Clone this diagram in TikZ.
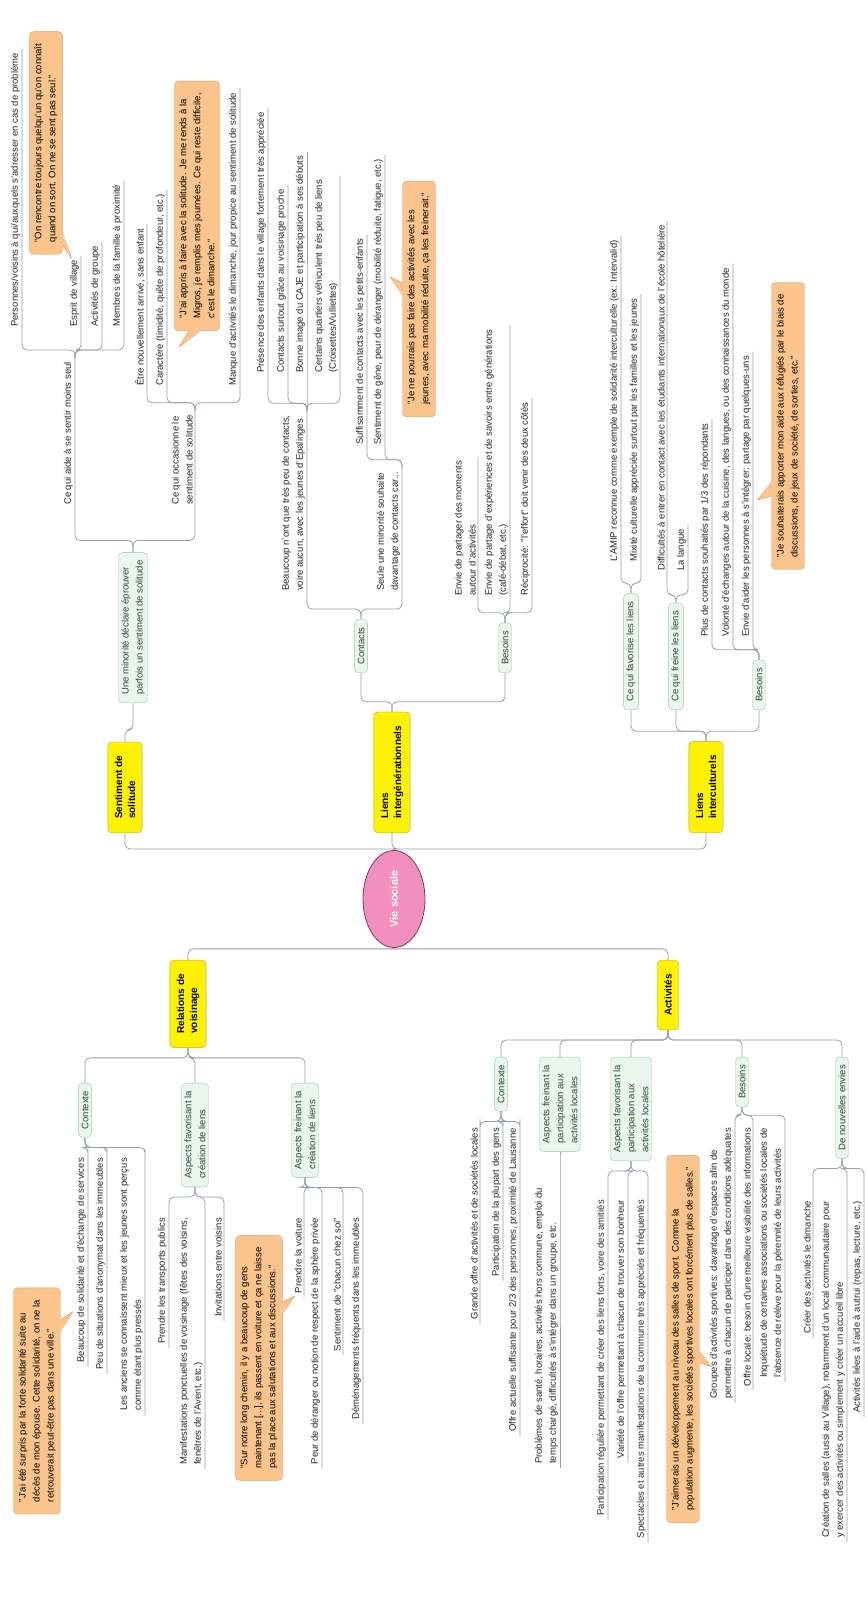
\documentclass[tikz,border=0pt]{standalone}
\usepackage{fontspec}
\setmainfont{Liberation Sans}
\usetikzlibrary{shapes.geometric,calc}
\definecolor{linec}{RGB}{150,160,175}
\definecolor{rootfill}{RGB}{243,143,190}
\definecolor{rootline}{RGB}{120,60,90}
\definecolor{mainline}{RGB}{190,170,40}
\definecolor{subfill}{RGB}{233,245,238}
\definecolor{subline}{RGB}{160,195,178}
\definecolor{subtext}{RGB}{50,70,60}
\definecolor{quotefill}{RGB}{250,196,140}
\definecolor{quoteline}{RGB}{228,160,100}
\definecolor{leaftext}{RGB}{40,40,40}

\begin{document}
\begin{tikzpicture}[
    conn/.style={draw=linec, line width=0.8pt, rounded corners=5pt},
    rootnode/.style={ellipse, draw=rootline, fill=rootfill, text=white, line width=0.8pt,
      font=\bfseries\fontsize{11}{13}\selectfont, minimum width=97pt, minimum height=62pt},
    mainbox/.style={draw=mainline, fill=yellow, rounded corners=4pt, align=left,
      font=\bfseries\fontsize{10}{13}\selectfont, inner xsep=14pt, inner ysep=7pt},
    subbox/.style={draw=subline, fill=subfill, text=subtext, rounded corners=4pt, align=left,
      font=\fontsize{9.5}{14}\selectfont, inner xsep=8pt, inner ysep=3pt},
    leaf/.style={text=leaftext, align=left, font=\fontsize{9.5}{14}\selectfont,
      inner xsep=4pt, inner ysep=2pt},
    callq/.style={draw=quoteline, fill=quotefill, rounded corners=4pt, align=left,
      font=\fontsize{9.5}{14}\selectfont, inner xsep=12pt, inner ysep=5pt},
    tailfill/.style={fill=quotefill},
    tailline/.style={draw=quoteline, line join=round}
  ]
\begin{scope}[rotate=90, transform shape, x=1pt, y=-1pt]
\fill[white] (0,0) rectangle (1603,867);
\useasboundingbox (0,0) rectangle (1603,867);

% centre and main topics
\node[rootnode] (vie) at (704,394) {Vie sociale};
\node[mainbox, anchor=west] (sol) at (770,125) {Sentiment de\\solitude};
\node[mainbox, anchor=west] (intg) at (770,392) {Liens\\intergénérationnels};
\node[mainbox, anchor=west] (intc) at (770,706) {Liens\\interculturels};
\node[mainbox, anchor=east] (vois) at (643,188) {Relations de\\voisinage};
\node[mainbox, anchor=east] (act) at (643,668) {Activités};

\draw[conn, sharp corners] (vie.east) -- ++(1,0) [rounded corners=5pt] |- (sol.west);
\draw[conn, sharp corners] (vie.east) -- ++(1,0) [rounded corners=5pt] |- (intg.west);
\draw[conn, sharp corners] (vie.east) -- ++(1,0) [rounded corners=5pt] |- (intc.west);
\draw[conn, sharp corners] (vie.west) -- ++(-1,0) [rounded corners=5pt] |- (vois.east);
\draw[conn, sharp corners] (vie.west) -- ++(-1,0) [rounded corners=5pt] |- (act.east);

% second level
\node[subbox, anchor=west] (minor) at (900,133) {Une minorité déclare éprouver\\parfois un sentiment de solitude};
\node[subbox, anchor=west] (contg) at (930,361) {Contacts};
\node[subbox, anchor=west] (besg) at (930,505) {Besoins};
\node[subbox, anchor=west] (fav) at (893,631) {Ce qui favorise les liens};
\node[subbox, anchor=west] (frein) at (893,676) {Ce qui freine les liens};
\node[subbox, anchor=west] (besc) at (893,759) {Besoins};
\node[subbox, anchor=east] (ctxv) at (520,85) {Contexte};
\node[subbox, anchor=east] (favv) at (520,195) {Aspects favorisant la\\création de liens};
\node[subbox, anchor=east] (freinv) at (520,305) {Aspects freinant la\\création de liens};
\node[subbox, anchor=east] (ctxa) at (546,501) {Contexte};
\node[subbox, anchor=east] (freina) at (546,560) {Aspects freinant la\\participation aux\\activités locales};
\node[subbox, anchor=east] (fava) at (546,631) {Aspects favorisant la\\participation aux\\activités locales};
\node[subbox, anchor=east] (besa) at (546,742) {Besoins};
\node[subbox, anchor=east] (envies) at (546,842) {De nouvelles envies};

\draw[conn] (sol.east) -- ++(12,0) |- (minor.west);
\draw[conn] (intg.east) -- ++(10,0) |- (contg.west);
\draw[conn] (intg.east) -- ++(10,0) |- (besg.west);
\draw[conn] (intc.east) -- ++(10,0) |- (fav.west);
\draw[conn] (intc.east) -- ++(10,0) |- (frein.west);
\draw[conn] (intc.east) -- ++(10,0) |- (besc.west);
\draw[conn] (vois.west) -- ++(-10,0) |- (ctxv.east);
\draw[conn] (vois.west) -- ++(-10,0) |- (favv.east);
\draw[conn] (vois.west) -- ++(-10,0) |- (freinv.east);
\draw[conn] (act.west) -- ++(-10,0) |- (ctxa.east);
\draw[conn] (act.west) -- ++(-10,0) |- (freina.east);
\draw[conn] (act.west) -- ++(-10,0) |- (fava.east);
\draw[conn] (act.west) -- ++(-10,0) |- (besa.east);
\draw[conn] (act.west) -- ++(-10,0) |- (envies.east);

% Sentiment de solitude
\node[leaf, anchor=south west] (aide) at (1094,75) {Ce qui aide à se sentir moins seul};
\node[leaf, anchor=south west] (occas) at (1094,195) {Ce qui occasionne le\\sentiment de solitude};
\draw[conn] (minor.east) -- ++(12,0) |- (aide.south west) -- (aide.south east);
\draw[conn] (minor.east) -- ++(12,0) |- (occas.south west) -- (occas.south east);

\node[leaf, anchor=south west] (recours) at (1272,22) {Personnes/voisins à qui/auxquels s'adresser en cas de problème};
\node[callq] (q1) at (1460,46) {"On rencontre toujours quelqu'un qu'on connaît\\quand on sort. On ne se sent pas seul."};
\fill[tailfill] ($(q1.south west)+(10,-1)$) -- ($(q1.south west)+(-4,9)$) -- ($(q1.south west)+(22,-1)$) -- cycle;
\draw[tailline] ($(q1.south west)+(10,0)$) -- ($(q1.south west)+(-4,9)$) -- ($(q1.south west)+(22,0)$);
\node[leaf, anchor=south west] (esprit) at (1272,81) {Esprit de village};
\node[leaf, anchor=south west] (grp) at (1272,102) {Activités de groupe};
\node[leaf, anchor=south west] (fam) at (1272,124) {Membres de la famille à proximité};
\foreach \c in {recours,esprit,grp,fam}
  \draw[conn] (aide.south east) -- ++(8,0) |- (\c.south west) -- (\c.south east);

\node[leaf, anchor=south west] (arrive) at (1213,147) {Être nouvellement arrivé, sans enfant};
\node[leaf, anchor=south west] (caract) at (1213,167) {Caractère (timidité, quête de profondeur, etc.)};
\node[callq] (q2) at (1397,197) {"J'ai appris à faire avec la solitude. Je me rends à la\\Migros, je remplis mes journées. Ce qui reste difficile,\\c'est le dimanche."};
\fill[tailfill] ($(q2.west)+(1,-8)$) -- ($(q2.west)+(-16,-18)$) -- ($(q2.west)+(1,4)$) -- cycle;
\draw[tailline] ($(q2.west)+(0,-8)$) -- ($(q2.west)+(-16,-18)$) -- ($(q2.west)+(0,4)$);
\node[leaf, anchor=south west] (dimanche) at (1213,240) {Manque d'activités le dimanche, jour propice au sentiment de solitude};
\foreach \c in {arrive,caract,dimanche}
  \draw[conn] (occas.south east) -- ++(8,0) |- (\c.south west) -- (\c.south east);

% Liens intergenerationnels
\node[leaf, anchor=south west] (peu) at (1008,307) {Beaucoup n'ont que très peu de contacts,\\voire aucun, avec les jeunes d'Epalinges};
\node[leaf, anchor=south west] (minorite) at (1008,402) {Seule une minorité souhaite\\davantage de contacts car...};
\draw[conn] (contg.east) -- ++(10,0) |- (peu.south west) -- (peu.south east);
\draw[conn] (contg.east) -- ++(10,0) |- (minorite.south west) -- (minorite.south east);

\node[leaf, anchor=south west] (enfants) at (1226,268) {Présence des enfants dans le village fortement très appréciée};
\node[leaf, anchor=south west] (proche) at (1226,288) {Contacts surtout grâce au voisinage proche};
\node[leaf, anchor=south west] (caje) at (1226,307) {Bonne image du CAJE et participation à ses débuts};
\node[leaf, anchor=south west] (quart) at (1226,340) {Certains quartiers véhiculent très peu de liens\\(Croisettes/Vulliettes)};
\foreach \c in {enfants,proche,caje,quart}
  \draw[conn] (peu.south east) -- ++(8,0) |- (\c.south west) -- (\c.south east);

\node[leaf, anchor=south west] (petits) at (1154,367) {Suffisamment de contacts avec les petits-enfants};
\node[leaf, anchor=south west] (gene) at (1154,385) {Sentiment de gêne, peur de déranger (mobilité réduite, fatigue, etc.)};
\node[callq] (q3) at (1304,419) {"Je ne pourrais pas faire des activités avec les\\jeunes, avec ma mobilité réduite, ça les freinerait."};
\fill[tailfill] ($(q3.north)+(4,1)$) -- ($(q3.north)+(22,-12)$) -- ($(q3.north)+(16,1)$) -- cycle;
\draw[tailline] ($(q3.north)+(4,0)$) -- ($(q3.north)+(22,-12)$) -- ($(q3.north)+(16,0)$);
\foreach \c in {petits,gene}
  \draw[conn] (minorite.south east) -- ++(8,0) |- (\c.south west) -- (\c.south east);

\node[leaf, anchor=south west] (moments) at (1003,478) {Envie de partager des moments\\autour d'activités};
\node[leaf, anchor=south west] (savoirs) at (1003,510) {Envie de partage d'expériences et de savoirs entre générations\\(café-débat, etc.)};
\node[leaf, anchor=south west] (recip) at (1003,532) {Réciprocité: "l'effort" doit venir des deux côtés};
\foreach \c in {moments,savoirs,recip}
  \draw[conn] (besg.east) -- ++(10,0) |- (\c.south west) -- (\c.south east);

% Liens interculturels
\node[leaf, anchor=south west] (amip) at (1037,621) {L'AMIP reconnue comme exemple de solidarité interculturelle (ex: Intervalid)};
\node[leaf, anchor=south west] (mixite) at (1037,641) {Mixité culturelle appréciée surtout par les familles et les jeunes};
\foreach \c in {amip,mixite}
  \draw[conn] (fav.east) -- ++(10,0) |- (\c.south west) -- (\c.south east);

\node[leaf, anchor=south west] (etud) at (1028,667) {Difficultés à entrer en contact avec les étudiants internationaux de l'école hôtelière};
\node[leaf, anchor=south west] (langue) at (1028,688) {La langue};
\foreach \c in {etud,langue}
  \draw[conn] (frein.east) -- ++(8,0) |- (\c.south west) -- (\c.south east);

\node[leaf, anchor=south west] (tiers) at (962,712) {Plus de contacts souhaités par 1/3 des répondants};
\node[leaf, anchor=south west] (cuisine) at (962,733) {Volonté d'échanges autour de la cuisine, des langues, ou des connaissances du monde};
\node[leaf, anchor=south west] (aider) at (962,753) {Envie d'aider les personnes à s'intégrer: partage par quelques-uns};
\node[callq] (q4) at (1177,788) {"Je souhaiterais apporter mon aide aux réfugiés par le biais de\\discussions, de jeux de société, de sorties, etc."};
\fill[tailfill] ($(q4.north)+(-70,1)$) -- ($(q4.north)+(-74,-14)$) -- ($(q4.north)+(-56,1)$) -- cycle;
\draw[tailline] ($(q4.north)+(-70,0)$) -- ($(q4.north)+(-74,-14)$) -- ($(q4.north)+(-56,0)$);
\foreach \c in {tiers,cuisine,aider}
  \draw[conn] (besc.east) -- ++(10,0) |- (\c.south west) -- (\c.south east);

% Relations de voisinage
\node[leaf, anchor=south east] (solid) at (449,88) {Beaucoup de solidarité et d'échange de services};
\node[callq] (q5) at (202,37) {"J'ai été surpris par la forte solidarité suite au\\décès de mon épouse. Cette solidarité, on ne la\\retrouverait peut-être pas dans une ville."};
\fill[tailfill] ($(q5.south east)+(-44,-1)$) -- ($(q5.south east)+(-24,12)$) -- ($(q5.south east)+(-32,-1)$) -- cycle;
\draw[tailline] ($(q5.south east)+(-44,0)$) -- ($(q5.south east)+(-24,12)$) -- ($(q5.south east)+(-32,0)$);
\node[leaf, anchor=south east] (anonym) at (449,107) {Peu de situations d'anonymat dans les immeubles};
\node[leaf, anchor=south east] (anciens) at (449,145) {Les anciens se connaissent mieux et les jeunes sont perçus\\comme étant plus pressés};
\foreach \c in {solid,anonym,anciens}
  \draw[conn] (ctxv.west) -- ++(-10,0) |- (\c.south east) -- (\c.south west);

\node[leaf, anchor=south east] (transp) at (389,169) {Prendre les transports publics};
\node[leaf, anchor=south east] (fetes) at (389,205) {Manifestations ponctuelles de voisinage (fêtes des voisins,\\fenêtres de l'Avent, etc.)};
\node[leaf, anchor=south east] (invit) at (389,224) {Invitations entre voisins};
\foreach \c in {transp,fetes,invit}
  \draw[conn] (favv.west) -- ++(-10,0) |- (\c.south east) -- (\c.south west);

\node[callq] (q6) at (245,259) {"Sur notre long chemin, il y a beaucoup de gens\\maintenant [...], ils passent en voiture et ça ne laisse\\pas la place aux salutations et aux discussions."};
\fill[tailfill] ($(q6.south)+(44,-1)$) -- ($(q6.south)+(62,12)$) -- ($(q6.south)+(56,-1)$) -- cycle;
\draw[tailline] ($(q6.south)+(44,0)$) -- ($(q6.south)+(62,12)$) -- ($(q6.south)+(56,0)$);
\node[leaf, anchor=south east] (voiture) at (389,304) {Prendre la voiture};
\node[leaf, anchor=south east] (spriv) at (389,322) {Peur de déranger ou notion de respect de la sphère privée};
\node[leaf, anchor=south east] (chacun) at (389,343) {Sentiment de "chacun chez soi"};
\node[leaf, anchor=south east] (demen) at (389,363) {Déménagements fréquents dans les immeubles};
\foreach \c in {voiture,spriv,chacun,demen}
  \draw[conn] (freinv.west) -- ++(-10,0) |- (\c.south east) -- (\c.south west);

% Activites
\node[leaf, anchor=south east] (offre) at (479,480) {Grande offre d'activités et de sociétés locales};
\node[leaf, anchor=south east] (plupart) at (479,503) {Participation de la plupart des gens};
\node[leaf, anchor=south east] (suff) at (479,520) {Offre actuelle suffisante pour 2/3 des personnes, proximité de Lausanne};
\foreach \c in {offre,plupart,suff}
  \draw[conn] (ctxa.west) -- ++(-10,0) |- (\c.south east) -- (\c.south west);

\node[leaf, anchor=south east] (sante) at (419,560) {Problèmes de santé, horaires, activités hors commune, emploi du\\temps chargé, difficultés à s'intégrer dans un groupe, etc.};
\draw[conn] (freina.west) -- ++(-10,0) |- (sante.south east) -- (sante.south west);

\node[leaf, anchor=south east] (regul) at (407,608) {Participation régulière permettant de créer des liens forts, voire des amitiés};
\node[leaf, anchor=south east] (variete) at (407,628) {Variété de l'offre permettant à chacun de trouver son bonheur};
\node[leaf, anchor=south east] (spect) at (407,648) {Spectacles et autres manifestations de la commune très appréciés et fréquentés};
\foreach \c in {regul,variete,spect}
  \draw[conn] (fava.west) -- ++(-10,0) |- (\c.south east) -- (\c.south west);

\node[callq] (q7) at (264,683) {"J'aimerais un développement au niveau des salles de sport. Comme la\\population augmente, les sociétés sportives locales ont forcément plus de salles."};
\fill[tailfill] ($(q7.south)+(-24,-1)$) -- ($(q7.south)+(-28,12)$) -- ($(q7.south)+(-12,-1)$) -- cycle;
\draw[tailline] ($(q7.south)+(-24,0)$) -- ($(q7.south)+(-28,12)$) -- ($(q7.south)+(-12,0)$);
\node[leaf, anchor=south east] (sport) at (479,735) {Groupes d'activités sportives: davantage d'espaces afin de\\permettre à chacun de participer dans des conditions adéquates};
\node[leaf, anchor=south east] (visib) at (479,753) {Offre locale: besoin d'une meilleure visibilité des informations};
\node[leaf, anchor=south east] (releve) at (479,785) {Inquiétude de certaines associations ou sociétés locales de\\l'absence de relève pour la pérennité de leurs activités};
\foreach \c in {sport,visib,releve}
  \draw[conn] (besa.west) -- ++(-8,0) |- (\c.south east) -- (\c.south west);

\node[leaf, anchor=south east] (dim) at (406,813) {Créer des activités le dimanche};
\node[leaf, anchor=south east] (salles) at (406,847) {Création de salles (aussi au Village), notamment d'un local communautaire pour\\y exercer des activités ou simplement y créer un accueil libre};
\node[leaf, anchor=south east] (autrui) at (406,864) {Activités liées à l'aide à autrui (repas, lecture, etc.)};
\foreach \c in {dim,salles,autrui}
  \draw[conn] (envies.west) -- ++(-10,0) |- (\c.south east) -- (\c.south west);
\end{scope}
\end{tikzpicture}
\end{document}
